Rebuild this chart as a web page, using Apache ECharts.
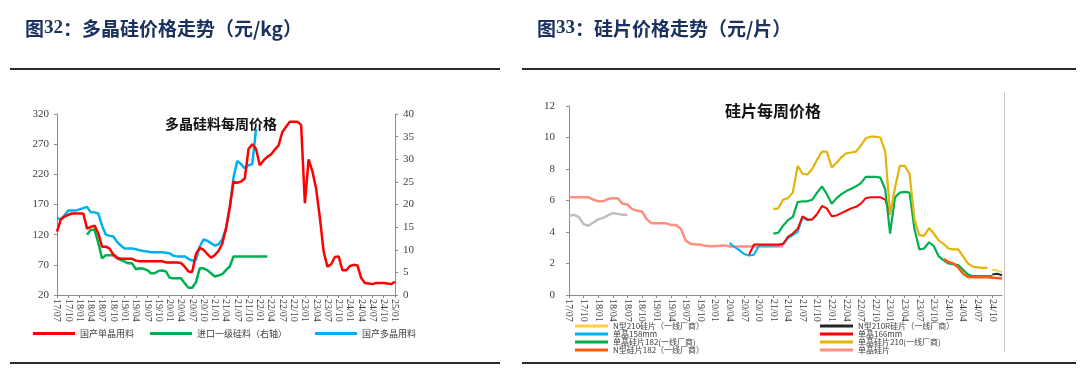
<!DOCTYPE html>
<html>
<head>
<meta charset="utf-8">
<script src="https://cdn.jsdelivr.net/npm/echarts@6/dist/echarts.min.js"></script>
<style>
html,body{margin:0;padding:0;background:#fff;}
#c{width:1080px;height:381px;}
</style>
</head>
<body>
<div id="c"></div>
<script>
// ---------- categories (month labels yy/mm starting 17/07) ----------
function buildMonths(n){
  const out=[]; let y=17, m=7;
  for(let i=0;i<n;i++){
    out.push(String(y).padStart(2,'0')+'/'+String(m).padStart(2,'0'));
    m++; if(m>12){m=1;y++;}
  }
  return out;
}
const leftCats = buildMonths(91);   // 17/07 .. 25/01
const rightCats = buildMonths(90);  // 17/07 .. 24/12

// ---------- Fig 32: polysilicon (yuan/kg), monthly ----------
const domMonoStart = 0; // 国产单晶用料
const domMonoVals = [
  125,145,150,153,155,155,155,155,130,133,
  135,122,100,100,97,87,82,80,80,80,
  80,77,76,76,76,76,76,76,76,74,
  74,74,74,73,67,59,58,88,98,95,
  88,82,86,93,105,130,165,208,206,208,
  213,262,270,262,235,243,249,253,261,268,
  290,299,307,307,307,302,172,245,225,196,
  148,92,67,71,83,84,61,61,68,70,
  69,48,40,39,38,40,40,40,39,38,
  42];
const domPolyStart = 0; // 国产多晶用料
const domPolyVals = [
  148,145,152,160,160,160,162,164,166,157,
  157,155,135,120,118,117,108,102,97,97,
  97,96,94,93,92,91,91,91,91,90,
  89,85,84,84,84,80,77,78,100,112,
  110,106,102,104,112,130,165,215,242,237,
  230,235,237,295];
const importStart = 8; // 进口一级硅料（右轴）
const importVals = [
  13.3,14.4,14.4,11.5,8.1,8.8,8.8,8.8,8.1,7.7,
  7.4,7.0,7.0,5.7,5.9,5.8,5.5,4.8,4.8,5.3,
  5.4,5.2,3.8,3.7,3.7,3.7,2.6,1.6,1.6,2.8,
  5.9,5.9,5.5,4.8,4.1,4.3,4.6,5.5,6.3,8.5,
  8.5,8.5,8.5,8.5,8.5,8.5,8.5,8.5,8.5];
const leftTicks = [20,70,120,170,220,270,320];
const rightTicks = [0,5,10,15,20,25,30,35,40];

// ---------- Fig 33: wafers (yuan/piece), monthly ----------
const multiStart = 0; // 多晶硅片 (legend cut off)
const multiVals = [5.0,5.1,4.95,4.5,4.4,4.6,4.8,4.9,5.05,5.2,5.15,5.1,5.1];
const monoStart = 0; // 单晶硅片
const monoVals = [
  6.2,6.2,6.2,6.2,6.2,6.05,5.95,5.95,6.1,6.15,
  6.15,5.8,5.75,5.45,5.35,5.3,4.8,4.55,4.55,4.55,
  4.55,4.45,4.45,4.2,3.45,3.25,3.2,3.2,3.12,3.1,
  3.1,3.12,3.15,3.08,3.08,3.08,3.08,3.08,3.08,3.08,
  3.08,3.08,3.08,3.08,3.1];
const m158Start = 33; // 单晶158mm
const m158Vals = [3.3,3.05,2.85,2.6,2.5,2.55,3.1,3.15,3.15,3.15,3.15,3.2,3.6,3.8,4.0,4.9,4.75,4.8,5.1];
const m166Start = 37; // 单晶166mm
const m166Vals = [
  2.55,3.2,3.2,3.2,3.2,3.2,3.2,3.25,3.7,3.9,
  4.2,5.0,4.8,4.8,5.15,5.65,5.5,5.0,5.05,5.2,
  5.35,5.5,5.6,5.8,6.15,6.2,6.2,6.2,6.05,5.1];
const w182Start = 42; // 单晶硅片182(一线厂商)
const w182Vals = [
  3.9,3.95,4.4,4.75,4.95,5.9,5.95,5.95,6.05,6.5,
  6.9,6.4,5.8,6.15,6.4,6.6,6.75,6.9,7.1,7.5,
  7.5,7.5,7.45,6.7,3.9,6.2,6.5,6.55,6.5,4.2,
  2.9,2.95,3.35,3.1,2.45,2.2,2.0,1.95,1.9,1.6,
  1.3,1.2,1.2,1.2,1.2,1.2];
const w210Start = 42; // 单晶硅片210(一线厂商)
const w210Vals = [
  5.45,5.5,6.05,6.15,6.5,8.2,7.7,7.65,8.0,8.6,
  9.1,9.1,8.1,8.4,8.75,9.0,9.05,9.1,9.5,9.95,
  10.05,10.05,10.0,9.1,5.1,6.8,8.2,8.2,7.7,4.8,
  3.8,3.75,4.25,3.9,3.45,3.25,2.95,2.9,2.9,2.45,
  2.0,1.8,1.75,1.72,1.72];
const n210Start = 87; // N型210硅片（一线厂商）
const n210Vals = [1.6,1.55,1.45];
const n210RStart = 87; // N型210R硅片（一线厂商）
const n210RVals = [1.3,1.35,1.25];
const n182Start = 77; // N型硅片182（一线厂商）
const n182Vals = [2.28,2.1,2.0,1.75,1.35,1.15,1.13,1.13,1.13,1.12,1.1,1.08,1.05];
const waferTicks = [0,2,4,6,8,10,12];

function place(start, vals, n){
  const a = new Array(n).fill(null);
  vals.forEach((v,i)=>{ a[start+i] = v; });
  return a;
}

const serif = 'Liberation Serif';
const cjk = 'Noto Sans CJK SC';
const axisColor = '#8c8c8c';
const labelColor = '#404040';

function lineSeries(name, color, data, xi, yi, w){
  return {
    name, type:'line', xAxisIndex:xi, yAxisIndex:yi, data,
    showSymbol:false, symbol:'none', connectNulls:false, smooth:false,
    lineStyle:{color, width:w}, itemStyle:{color},
    emphasis:{disabled:true}, silent:true
  };
}

const xAxisBase = {
  type:'category', boundaryGap:false,
  axisLine:{lineStyle:{color:axisColor, width:1}},
  axisTick:{interval:2, length:3, lineStyle:{color:axisColor}},
  axisLabel:{interval:2, rotate:-90, fontSize:10, fontFamily:serif, color:labelColor, margin:4},
  splitLine:{show:false}
};
function yAxisBase(extra){
  return Object.assign({
    type:'value',
    axisLine:{show:true, lineStyle:{color:axisColor, width:1}},
    axisTick:{show:true, length:3, lineStyle:{color:axisColor}},
    axisLabel:{fontSize:11, fontFamily:serif, color:labelColor},
    splitLine:{show:false}
  }, extra);
}

const legendText = {fontSize:9, color:'#404040', fontFamily:cjk};

const option = {
  animation:false,
  backgroundColor:'#ffffff',
  title:[
    {text:'{a|图}{b|32}{c|：多晶硅价格走势（元/kg）}', left:20, top:14,
     textStyle:{rich:{
       a:{fontSize:19, fontWeight:'bold', color:'#1b3160', fontFamily:cjk},
       b:{fontSize:19, color:'#1b3160', fontFamily:serif},
       c:{fontSize:19, fontWeight:'bold', color:'#1b3160', fontFamily:cjk}}}},
    {text:'{a|图}{b|33}{c|：硅片价格走势（元/片）}', left:532, top:14,
     textStyle:{rich:{
       a:{fontSize:19, fontWeight:'bold', color:'#1b3160', fontFamily:cjk},
       b:{fontSize:19, color:'#1b3160', fontFamily:serif},
       c:{fontSize:19, fontWeight:'bold', color:'#1b3160', fontFamily:cjk}}}},
    {text:'多晶硅料每周价格', left:160, top:112,
     textStyle:{fontSize:14, fontWeight:'bold', color:'#111', fontFamily:cjk}},
    {text:'硅片每周价格', left:720, top:98,
     textStyle:{fontSize:16, fontWeight:'bold', color:'#111', fontFamily:cjk}}
  ],
  grid:[
    {left:57, top:114, width:338, height:181},
    {left:569, top:106, width:433, height:189}
  ],
  xAxis:[
    Object.assign({}, xAxisBase, {gridIndex:0, data:leftCats}),
    Object.assign({}, xAxisBase, {gridIndex:1, data:rightCats})
  ],
  yAxis:[
    yAxisBase({gridIndex:0, position:'left', min:leftTicks[0], max:leftTicks[leftTicks.length-1], interval:50}),
    yAxisBase({gridIndex:0, position:'right', min:rightTicks[0], max:rightTicks[rightTicks.length-1], interval:5}),
    yAxisBase({gridIndex:1, position:'left', min:waferTicks[0], max:waferTicks[waferTicks.length-1], interval:2,
      axisLabel:{fontSize:11, fontFamily:serif, color:labelColor, margin:14}})
  ],
  legend:[
    {data:['国产单晶用料'], left:28, top:324, icon:'rect', itemWidth:42, itemHeight:3, textStyle:legendText, selectedMode:false},
    {data:['进口一级硅料（右轴）'], left:145, top:324, icon:'rect', itemWidth:42, itemHeight:3, textStyle:legendText, selectedMode:false},
    {data:['国产多晶用料'], left:310, top:324, icon:'rect', itemWidth:42, itemHeight:3, textStyle:legendText, selectedMode:false},
    {data:['N型210硅片（一线厂商）','单晶158mm','单晶硅片182(一线厂商)','N型硅片182（一线厂商）'],
     orient:'vertical', left:570, top:317, icon:'rect', itemWidth:33, itemHeight:3, itemGap:0,
     textStyle:{fontSize:8, lineHeight:7.5, color:'#404040', fontFamily:cjk}, selectedMode:false},
    {data:['N型210R硅片（一线厂商）','单晶166mm','单晶硅片210(一线厂商)','单晶硅片'],
     orient:'vertical', left:815, top:317, icon:'rect', itemWidth:33, itemHeight:3, itemGap:0,
     textStyle:{fontSize:8, lineHeight:7.5, color:'#404040', fontFamily:cjk}, selectedMode:false}
  ],
  graphic:[
    {type:'line', shape:{x1:10,y1:69,x2:500,y2:69}, style:{stroke:'#2a2a2a', lineWidth:2}},
    {type:'line', shape:{x1:522,y1:69,x2:1076,y2:69}, style:{stroke:'#2a2a2a', lineWidth:2}},
    {type:'line', shape:{x1:10,y1:363,x2:500,y2:363}, style:{stroke:'#2a2a2a', lineWidth:2}},
    {type:'line', shape:{x1:522,y1:363,x2:1076,y2:363}, style:{stroke:'#2a2a2a', lineWidth:2}},
    {type:'line', shape:{x1:1004.5,y1:92,x2:1004.5,y2:352}, style:{stroke:'#c8c8c8', lineWidth:1}}
  ],
  series:[
    lineSeries('进口一级硅料（右轴）', '#00b050', place(importStart, importVals, 91), 0, 1, 2.5),
    lineSeries('国产多晶用料', '#00b0f0', place(domPolyStart, domPolyVals, 91), 0, 0, 2.5),
    lineSeries('国产单晶用料', '#ff0000', place(domMonoStart, domMonoVals, 91), 0, 0, 2.5),

    lineSeries('多晶硅片', '#bfbfbf', place(multiStart, multiVals, 90), 1, 2, 2.5),
    lineSeries('单晶硅片', '#ff8f80', place(monoStart, monoVals, 90), 1, 2, 2.5),
    lineSeries('单晶158mm', '#00b0f0', place(m158Start, m158Vals, 90), 1, 2, 2),
    lineSeries('单晶166mm', '#ff0000', place(m166Start, m166Vals, 90), 1, 2, 2),
    lineSeries('单晶硅片182(一线厂商)', '#00b050', place(w182Start, w182Vals, 90), 1, 2, 2.2),
    lineSeries('单晶硅片210(一线厂商)', '#e3b50a', place(w210Start, w210Vals, 90), 1, 2, 2.2),
    lineSeries('N型210硅片（一线厂商）', '#ffd040', place(n210Start, n210Vals, 90), 1, 2, 2),
    lineSeries('N型210R硅片（一线厂商）', '#262626', place(n210RStart, n210RVals, 90), 1, 2, 2),
    lineSeries('N型硅片182（一线厂商）', '#ff5a10', place(n182Start, n182Vals, 90), 1, 2, 2.5)
  ]
};

const chart = echarts.init(document.getElementById('c'), null, {renderer:'canvas'});
chart.setOption(option);
</script>
</body>
</html>
